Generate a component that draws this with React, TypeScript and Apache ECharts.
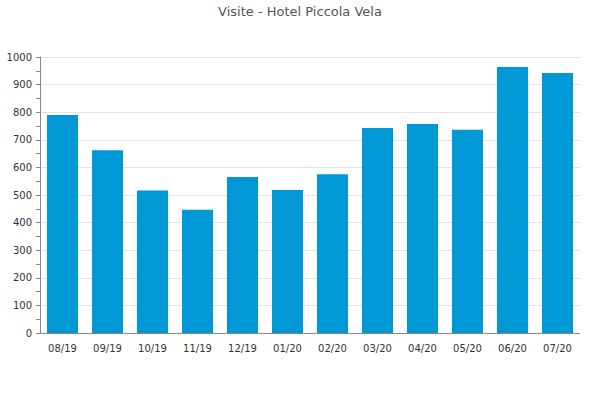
import React, { useEffect, useRef } from "react";
import * as echarts from "echarts";

const categories = ["08/19", "09/19", "10/19", "11/19", "12/19", "01/20", "02/20", "03/20", "04/20", "05/20", "06/20", "07/20"];
const visits = [790, 662, 516, 447, 565, 518, 575, 743, 757, 736, 964, 942];
const titleText = "Visite - Hotel Piccola Vela";

export default function App() {
  const ref = useRef<HTMLDivElement>(null);
  useEffect(() => {
    if (!ref.current) return;
    const chart = echarts.init(ref.current, null, { renderer: "svg" });
    chart.setOption({
      animation: false,
      backgroundColor: "#ffffff",
      textStyle: { fontFamily: "DejaVu Sans" },
      title: {
        text: titleText,
        left: "center",
        top: 0,
        textStyle: { fontSize: 13, fontWeight: "normal", color: "#555", fontFamily: "DejaVu Sans" },
      },
      grid: { left: 40, right: 20, top: 57, bottom: 67, containLabel: false },
      xAxis: {
        type: "category",
        data: categories,
        axisLine: { lineStyle: { color: "#888" } },
        axisTick: { show: false },
        axisLabel: { color: "#333", fontSize: 10, margin: 10 },
      },
      yAxis: {
        type: "value",
        min: 0,
        max: 1000,
        interval: 100,
        axisLine: { show: true, lineStyle: { color: "#888" } },
        axisTick: { show: true, length: 4, lineStyle: { color: "#888" } },
        minorTick: { show: true, splitNumber: 2, length: 4, lineStyle: { color: "#888" } },
        splitLine: { lineStyle: { color: "#e3e3e3" } },
        axisLabel: { color: "#333", fontSize: 10, margin: 8, formatter: (v: number) => String(v) },
      },
      series: [
        {
          type: "bar",
          data: visits,
          barWidth: "69%",
          itemStyle: { color: "#0099d6" },
        },
      ],
    });
    return () => chart.dispose();
  }, []);
  return <div ref={ref} style={{ width: 600, height: 400, position: "absolute", left: 0, top: 0 }} />;
}
